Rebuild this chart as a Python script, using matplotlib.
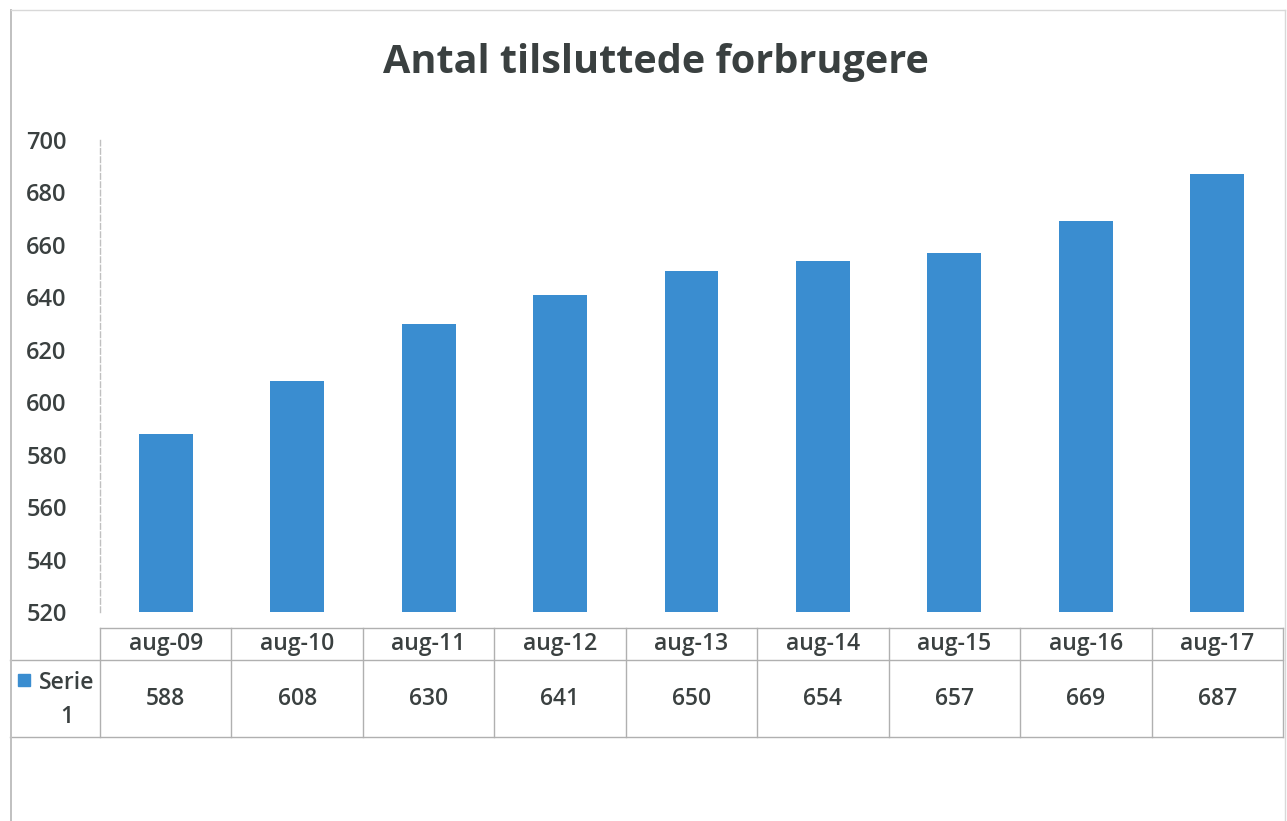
import matplotlib
matplotlib.use("Agg")
import matplotlib.pyplot as plt
from matplotlib.lines import Line2D
from matplotlib.patches import Rectangle
import matplotlib.transforms as mtransforms

categories = ["aug-09", "aug-10", "aug-11", "aug-12", "aug-13", "aug-14", "aug-15", "aug-16", "aug-17"]
values = [588, 608, 630, 641, 650, 654, 657, 669, 687]
series_name = "Serie 1"
title = "Antal tilsluttede forbrugere"
yticks = [520, 540, 560, 580, 600, 620, 640, 660, 680, 700]

W, H = 1287, 821
bar_color = "#3A8DD0"
text_color = "#3A4040"
line_color = "#B0B0B0"
plt.rcParams['font.family'] = ['Open Sans', 'DejaVu Sans']
fs = 16.5
fw = "semibold"

fig = plt.figure(figsize=(W / 100, H / 100), dpi=100)
fig.patch.set_facecolor("white")

def fx(px):
    return px / W

def fy(py):
    return 1 - py / H

ax_l, ax_r, ax_t, ax_b = 100, 1283, 140, 612
ax = fig.add_axes([fx(ax_l), fy(ax_b), fx(ax_r - ax_l), (ax_b - ax_t) / H])
x = list(range(len(categories)))
ax.bar(x, [v - yticks[0] for v in values], bottom=yticks[0], width=0.41, color=bar_color)
ax.set_xlim(-0.5, len(categories) - 0.5)
ax.set_ylim(yticks[0], yticks[-1])
ax.set_yticks(yticks)
ax.set_yticklabels([str(t) for t in yticks], fontsize=17, color=text_color, fontweight=fw)
ax.tick_params(axis="y", length=0, pad=24)
ax.set_xticks([])
for s in ["top", "right", "bottom"]:
    ax.spines[s].set_visible(False)
ax.spines["left"].set_color("#C0C0C0")
ax.spines["left"].set_linestyle((0, (4, 2)))
ax.spines["left"].set_linewidth(1.0)

# Title
fig.text(fx(656), fy(63), title, ha="center", va="center", fontsize=28.5,
         fontweight="bold", color=text_color)

# Data table beneath the axes
blend = mtransforms.blended_transform_factory(ax.transData, ax.transAxes)
def ay(py):
    return (ax_b - py) / (ax_b - ax_t)

y_head_top, y_head_bot, y_val_bot = 628, 660, 737
n = len(categories)
lw = 1.0
ax.add_line(Line2D([-0.5, n - 0.5], [ay(y_head_top)] * 2, transform=blend, color=line_color, lw=lw, clip_on=False))
fig.add_artist(Line2D([fx(10), fx(ax_r)], [fy(y_head_bot)] * 2, color=line_color, lw=lw))
fig.add_artist(Line2D([fx(10), fx(ax_r)], [fy(y_val_bot)] * 2, color=line_color, lw=lw))
for i in range(n + 1):
    ax.add_line(Line2D([i - 0.5, i - 0.5], [ay(y_head_top), ay(y_val_bot)], transform=blend,
                       color=line_color, lw=lw, clip_on=False))
for i, (c, v) in enumerate(zip(categories, values)):
    ax.text(i, ay((y_head_top + y_head_bot) / 2), c, transform=blend, ha="center", va="center",
            fontsize=fs, color=text_color, fontweight=fw, clip_on=False)
    ax.text(i, ay((y_head_bot + y_val_bot) / 2), str(v), transform=blend, ha="center", va="center",
            fontsize=fs, color=text_color, fontweight=fw, clip_on=False)

# legend key cell
fig.add_artist(Rectangle((fx(18), fy(686)), fx(12), 12 / H, color=bar_color))
name_parts = series_name.split()
fig.text(fx(67), fy(683), name_parts[0], ha="center", va="center", fontsize=fs, color=text_color, fontweight=fw)
fig.text(fx(67), fy(717), name_parts[1], ha="center", va="center", fontsize=fs, color=text_color, fontweight=fw)

# outer chart border
fig.add_artist(Line2D([fx(11), fx(11)], [fy(10), 0], color="#C0C0C0", lw=1.4))
fig.add_artist(Line2D([fx(11), fx(1285)], [fy(10), fy(10)], color="#D8D8D8", lw=1.0))
fig.add_artist(Line2D([fx(1285), fx(1285)], [fy(10), 0], color="#D8D8D8", lw=1.0))

fig.savefig("out.png", dpi=100, facecolor="white")
